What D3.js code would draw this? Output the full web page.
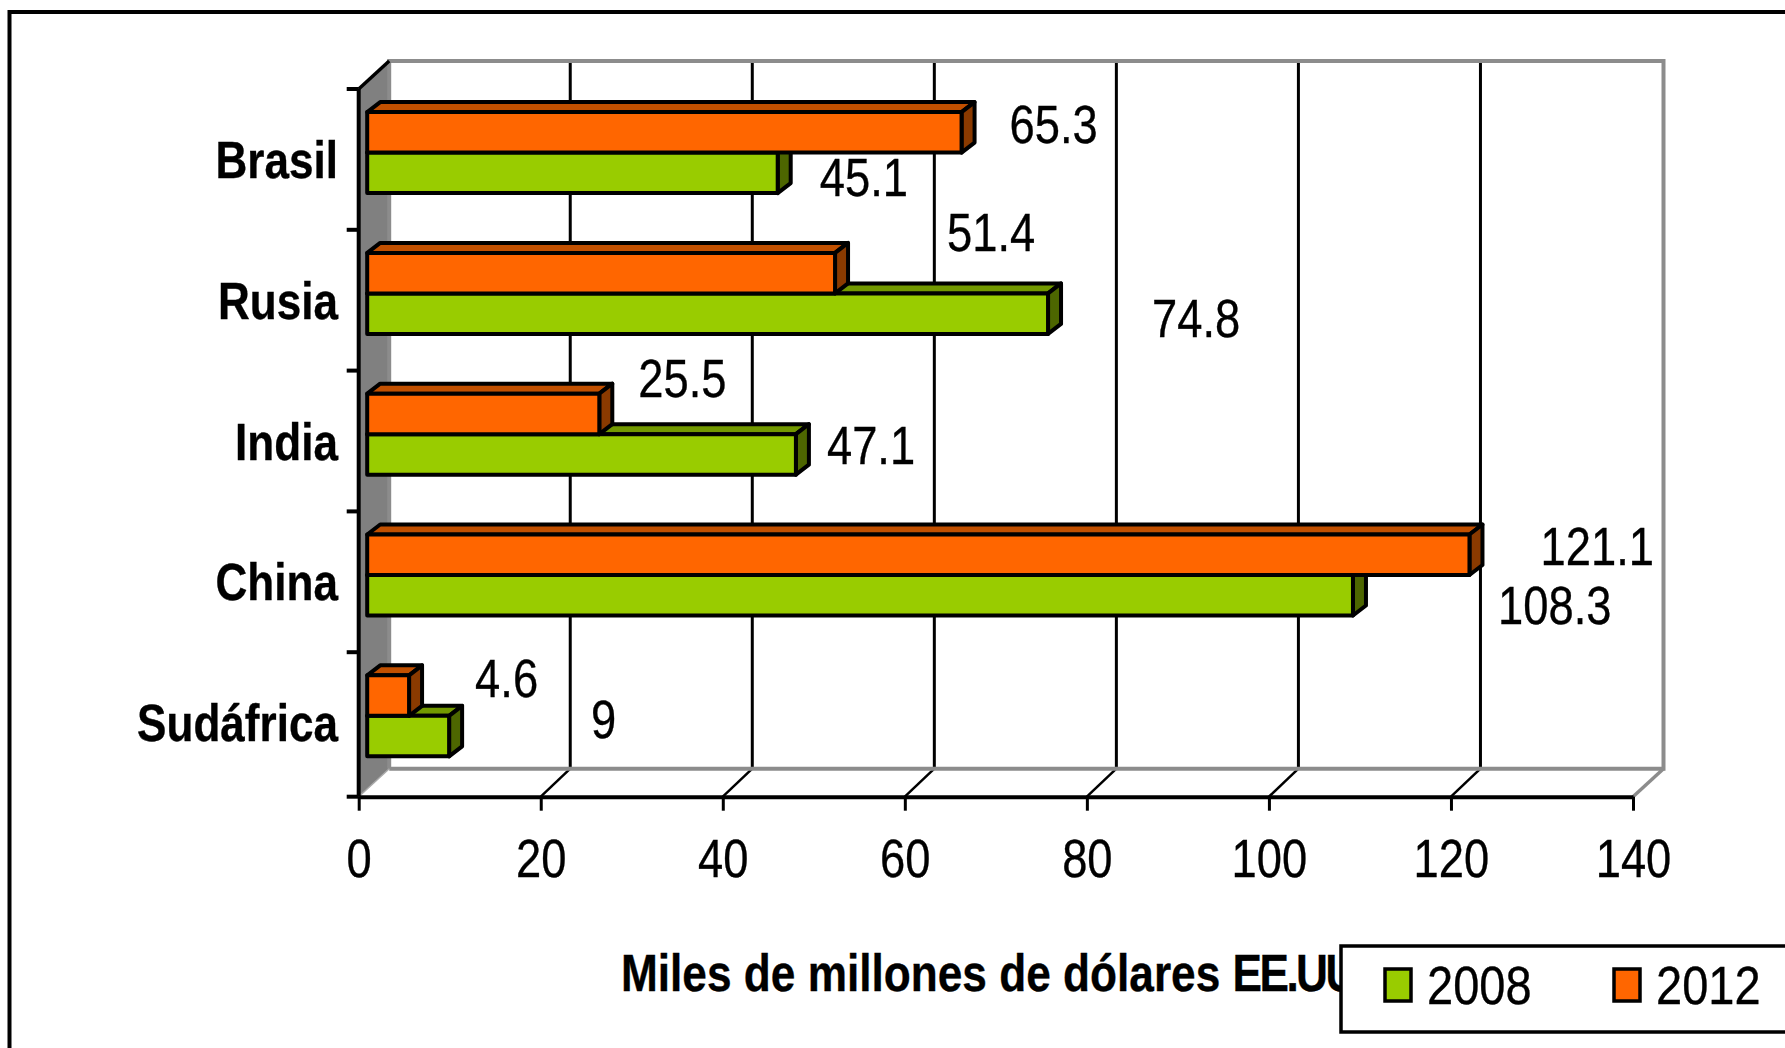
<!DOCTYPE html>
<html lang="es">
<head>
<meta charset="utf-8">
<title>Miles de millones de dólares EE.UU.</title>
<script src="https://cdn.jsdelivr.net/npm/d3@7"></script>
<style>
    html, body { margin: 0; padding: 0; background: #fff; }
    svg { display: block; }
    text { font-family: "Liberation Sans", Arial, sans-serif; fill: #000; stroke: #000; stroke-width: 0.35px; }
</style>
</head>
<body>
<svg id="chart" width="1785" height="1048"></svg>
<script>
// 1: DATA
const categories = ["Brasil", "Rusia", "India", "China", "Sudáfrica"];
const seriesNames = ["2008", "2012"];
const values2008 = [45.1, 74.8, 47.1, 108.3, 9];
const values2012 = [65.3, 51.4, 25.5, 121.1, 4.6];
const xTicks = [0, 20, 40, 60, 80, 100, 120, 140];
const xTitle = "Miles de millones de dólares ";
const xTitleUnit = "EE.UU.";

// the value labels were dragged around by hand in the original, offsets from bar end / bar top
const labelDx2008 = [42, 104, 31, 145, 142];
const labelDy2008 = [43.6, 44, 30, 48.7, 22];
const labelDx2012 = [48, 112, 39, 71, 66];
const labelDy2012 = [30.6, -2, 3, 30, 22];

// 2: GLOBAL VARIABLES
const frontLeft = 358.7, frontRight = 1633, frontTop = 89, frontBottom = 796.7;
const wallDx = 30.5, wallDy = 28;     // depth of the 3D box
const barDepthX = 13, barDepthY = 10; // depth of the bars
const barInset = 8.5;                 // bars stand a bit behind the front axis
const squeeze = 0.84;                 // the original text is horizontally narrowed

const colors = {
    "2008": { front: "#99cc00", top: "#739900", side: "#4d6600" },
    "2012": { front: "#ff6600", top: "#c25000", side: "#8a3a00" }
};

const svg = d3.select("#chart");

// 3: SCALES
const x = d3.scaleLinear().domain([0, 140]).range([frontLeft, frontRight]);

const yBars = d3.scaleBand().domain(categories).range([81.5, 785.5]);
const ySeries = d3.scaleBand().domain(["2012", "2008"]).range([30.6, 111.6]);

const xEnd = v => x(v) + barInset;
const rows = d3.merge([
    categories.map((c, i) => ({ cat: c, year: "2008", value: values2008[i], dx: labelDx2008[i], dy: labelDy2008[i] })),
    categories.map((c, i) => ({ cat: c, year: "2012", value: values2012[i], dx: labelDx2012[i], dy: labelDy2012[i] }))
]);
const barTop = d => yBars(d.cat) + ySeries(d.year);

// 4: OUTER FRAME (only top and left edges are inside the crop)
svg.append("path")
    .attr("d", "M9.5,1048V12H1785")
    .attr("fill", "none")
    .attr("stroke", "#000")
    .attr("stroke-width", 4);

// 5: 3D BOX
const backLeft = frontLeft + wallDx, backRight = frontRight + wallDx;
const backTop = frontTop - wallDy, backBottom = frontBottom - wallDy;

// side wall
svg.append("polygon")
    .attr("points", [[frontLeft, frontTop], [backLeft, backTop], [backLeft, backBottom], [frontLeft, frontBottom]].join(" "))
    .attr("fill", "#808080");

// gridlines on the back wall and their diagonals on the floor
const grid = svg.append("g");
grid.selectAll(".grid")
    .data(xTicks.slice(1, -1))
    .join("line")
    .attr("x1", d => x(d) + wallDx - 1).attr("x2", d => x(d) + wallDx - 1)
    .attr("y1", backTop).attr("y2", backBottom)
    .attr("stroke", "#000").attr("stroke-width", 3);
grid.selectAll(".floor")
    .data(xTicks.slice(1, -1))
    .join("line")
    .attr("x1", d => x(d)).attr("x2", d => x(d) + wallDx - 1)
    .attr("y1", frontBottom).attr("y2", backBottom)
    .attr("stroke", "#000").attr("stroke-width", 2.5);

// gray edges of the box
svg.append("path")
    .attr("d", `M${backLeft},${backBottom}V${backTop}H${backRight}V${backBottom}H${backLeft}`)
    .attr("fill", "none").attr("stroke", "#8c8c8c").attr("stroke-width", 4);
svg.append("line")
    .attr("x1", frontRight).attr("y1", frontBottom).attr("x2", backRight).attr("y2", backBottom)
    .attr("stroke", "#8c8c8c").attr("stroke-width", 3.5);
svg.append("line")
    .attr("x1", frontLeft).attr("y1", frontBottom).attr("x2", backLeft).attr("y2", backBottom)
    .attr("stroke", "#aaa").attr("stroke-width", 1.5);

// black edge at the top of the side wall
svg.append("line")
    .attr("x1", frontLeft).attr("y1", frontTop).attr("x2", backLeft).attr("y2", backTop)
    .attr("stroke", "#000").attr("stroke-width", 3.5);

// 6: AXES
const xAxis = svg.append("g")
    .attr("transform", `translate(0,${frontBottom})`)
    .call(d3.axisBottom(x).tickValues(xTicks).tickSize(14).tickSizeOuter(0));
xAxis.select(".domain").attr("stroke-width", 4);
xAxis.selectAll(".tick line").attr("stroke-width", 3);
xAxis.selectAll(".tick text")
    .attr("y", 80).attr("dy", 0)
    .attr("transform", `scale(${squeeze},1)`)
    .style("font-size", "54px");

svg.append("line")
    .attr("x1", frontLeft).attr("x2", frontLeft)
    .attr("y1", frontTop).attr("y2", frontBottom)
    .attr("stroke", "#000").attr("stroke-width", 4);

// tick marks sit between the categories
svg.selectAll(".cat-tick")
    .data([...categories.map(c => yBars(c) + 7.5), frontBottom])
    .join("line")
    .attr("x1", frontLeft - 12).attr("x2", frontLeft)
    .attr("y1", d => d).attr("y2", d => d)
    .attr("stroke", "#000").attr("stroke-width", 4);

const yAxis = svg.append("g")
    .attr("transform", "translate(338,0)")
    .call(d3.axisLeft(yBars).tickSize(0).tickPadding(0));
yAxis.select(".domain").remove();
yAxis.selectAll(".tick text")
    .attr("x", 0).attr("dy", 26)
    .attr("transform", "scale(0.84,1)")
    .style("font-size", "52.5px")
    .style("font-weight", "bold");

// 7: BARS
const bars = svg.selectAll(".bar")
    .data(rows)
    .join("g")
    .attr("class", "bar")
    .attr("stroke", "#000")
    .attr("stroke-width", 4)
    .attr("stroke-linejoin", "round");

bars.append("polygon") // top face
    .attr("fill", d => colors[d.year].top)
    .attr("points", d => {
        const l = x(0) + barInset, r = xEnd(d.value), t = barTop(d);
        return [[l, t], [l + barDepthX, t - barDepthY], [r + barDepthX, t - barDepthY], [r, t]].join(" ");
    });

bars.append("polygon") // side face
    .attr("fill", d => colors[d.year].side)
    .attr("points", d => {
        const r = xEnd(d.value), t = barTop(d), b = t + ySeries.bandwidth();
        return [[r, t], [r + barDepthX, t - barDepthY], [r + barDepthX, b - barDepthY], [r, b]].join(" ");
    });

bars.append("rect") // front face
    .attr("fill", d => colors[d.year].front)
    .attr("x", x(0) + barInset)
    .attr("y", d => barTop(d))
    .attr("width", d => xEnd(d.value) - xEnd(0))
    .attr("height", ySeries.bandwidth());

// 8: VALUE LABELS
svg.selectAll(".value")
    .data(rows)
    .join("text")
    .attr("class", "value")
    .attr("transform", d => `translate(${xEnd(d.value) + d.dx},${barTop(d) + d.dy}) scale(${squeeze},1)`)
    .style("font-size", "54px")
    .text(d => d.value);

// 9: AXIS TITLE
const title = svg.append("text")
    .attr("transform", "translate(621,990.5) scale(0.85,1)")
    .style("font-size", "52px")
    .style("font-weight", "bold");
title.append("tspan").text(xTitle);
title.append("tspan").style("letter-spacing", "-3px").text(xTitleUnit); // set tight in the original

// 10: LEGEND (its box covers the end of the axis title, same as the original)
const legend = svg.append("g").attr("transform", "translate(1341,946)");
legend.append("rect")
    .attr("width", 500).attr("height", 86)
    .attr("fill", "#fff").attr("stroke", "#000").attr("stroke-width", 3.5);

const legendX = d3.scalePoint().domain(seriesNames).range([44, 273]);
const legendItem = legend.selectAll(".item")
    .data(seriesNames)
    .join("g")
    .attr("class", "item")
    .attr("transform", d => `translate(${legendX(d)},0)`);
legendItem.append("rect")
    .attr("y", 23).attr("width", 26).attr("height", 32)
    .attr("fill", d => colors[d].front)
    .attr("stroke", "#000").attr("stroke-width", 3.5);
legendItem.append("text")
    .attr("transform", "translate(42,58) scale(0.87,1)")
    .style("font-size", "54px")
    .text(d => d);
</script>
</body>
</html>
